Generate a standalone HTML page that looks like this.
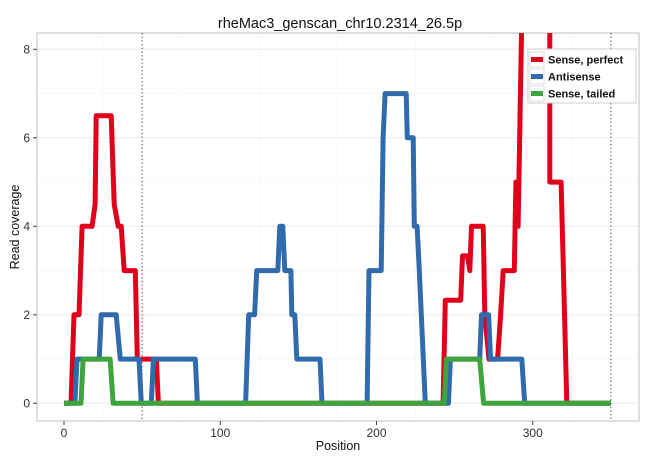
<!DOCTYPE html>
<html><head><meta charset="utf-8"><style>
body{margin:0;background:#fff;}
svg{display:block;font-family:"Liberation Sans",Arial,sans-serif;}
</style></head><body>
<svg id="chart" width="650" height="460" viewBox="0 0 650 460" xmlns="http://www.w3.org/2000/svg">
<defs><clipPath id="clip"><rect x="37" y="33" width="602" height="388"/></clipPath></defs>
<text x="340" y="28" text-anchor="middle" font-size="14.5" fill="#111">rheMac3_genscan_chr10.2314_26.5p</text>
<rect x="37" y="33" width="602" height="388" fill="#fff" stroke="#bdbdbd" stroke-width="1"/>
<g id="grid"></g>
<g id="series" clip-path="url(#clip)"></g>
<g id="axes"></g>
<text x="338" y="450" text-anchor="middle" font-size="12.5" fill="#111">Position</text>
<text transform="translate(19,227) rotate(-90)" text-anchor="middle" font-size="12.5" fill="#111">Read coverage</text>
<g>
<rect x="528" y="49" width="108" height="54" fill="#fff" stroke="#cfcfcf"/>
<g><rect x="530" y="52" width="14" height="15" fill="#fff" stroke="#ddd"/><line x1="531" y1="59.5" x2="543" y2="59.5" stroke="#e0001b" stroke-width="5"/><text x="548" y="63.5" font-size="11" font-weight="bold" fill="#111">Sense, perfect</text></g>
<g><rect x="530" y="69" width="14" height="15" fill="#fff" stroke="#ddd"/><line x1="531" y1="76.5" x2="543" y2="76.5" stroke="#2f6bad" stroke-width="5"/><text x="548" y="80.5" font-size="11" font-weight="bold" fill="#111">Antisense</text></g>
<g><rect x="530" y="86" width="14" height="15" fill="#fff" stroke="#ddd"/><line x1="531" y1="93.5" x2="543" y2="93.5" stroke="#3ea43b" stroke-width="5"/><text x="548" y="97.5" font-size="11" font-weight="bold" fill="#111">Sense, tailed</text></g>
</g>
</svg>
<script>
const xTicks=[0,100,200,300];
const yTicks=[0,2,4,6,8];
const vlines=[50,350];
const redX=[0,4.5,6.4,9.6,11.6,18,19.9,20.6,30.2,32.1,34.7,36.6,38.5,45.6,46.9,59.1,60.4,242.6,244,253.9,255,258.2,259.7,260.8,268.3,269.3,272,277.5,279.4,281.1,288.2,289.2,290.6,293.6,310.9,310.9,318.1,319.6,321.8,350];
const redY=[0,0,2,2,4,4,4.5,6.5,6.5,4.5,4,4,3,3,1,1,0,0,2.33,2.33,3.33,3.33,3,4,4,2,1,1,2,3,3,5,4,10,10,5,5,3,0,0];
const blueX=[0,7,8.3,22.5,23.8,33.4,36,48,49.5,55.9,57.2,84,85.4,116.2,118.2,122,123.3,136.8,138.1,140,141.3,145.2,145.8,147.7,149,163.8,165.1,194,195.2,203,204.2,205.5,219,219.7,223.5,224.2,226,227.4,231.2,246,247.3,266,267.2,271.7,273,293,294.8,350];
const blueY=[0,0,1,1,2,2,1,1,0,0,1,1,0,0,2,2,3,3,4,4,3,3,2,2,1,1,0,0,3,3,6,7,7,6,6,4,4,3,0,0,1,1,2,2,1,1,0,0];
const greenX=[0,10.9,12.2,29.5,31.5,243.4,244.7,266,268.5,350];
const greenY=[0,0,1,1,0,0,1,1,0,0];
const NS="http://www.w3.org/2000/svg";
const sx=v=>64+v*1.5626, sy=v=>403.3-v*44.25;
function mk(t,a,p){const e=document.createElementNS(NS,t);for(const k in a)e.setAttribute(k,a[k]);p.appendChild(e);return e;}
const grid=document.getElementById('grid'),axes=document.getElementById('axes'),ser=document.getElementById('series');
for(let v=-25;v<=375;v+=50){const x=sx(v);if(x<37||x>639)continue;const major=v%100===0;
 const l=mk('line',{x1:x,x2:x,y1:33,y2:421,stroke:major?'#ececec':'#f5f5f5','stroke-width':major?1:0.6},grid);
 
 }
for(let v=0;v<=8;v++){const y=sy(v);const major=v%2===0;
 const l=mk('line',{x1:37,x2:639,y1:y,y2:y,stroke:major?'#ececec':'#f5f5f5','stroke-width':major?1:0.6},grid);
 
 }
vlines.forEach(v=>{const l=mk('line',{x1:sx(v),x2:sx(v),y1:33,y2:421,stroke:'#333','stroke-width':1,'stroke-dasharray':'1.2,2.5'},grid);
 
 });
xTicks.forEach(v=>{const x=sx(v);mk('line',{x1:x,x2:x,y1:421,y2:425,stroke:'#444'},axes);
 const t=mk('text',{x:x,y:437,'text-anchor':'middle','font-size':12,fill:'#333'},axes);t.textContent=v;
 
 });
yTicks.forEach(v=>{const y=sy(v);mk('line',{x1:33,x2:37,y1:y,y2:y,stroke:'#444'},axes);
 const t=mk('text',{x:30,y:y+4,'text-anchor':'end','font-size':12,fill:'#333'},axes);t.textContent=v;
 
 });
function line(xs,ys,c,name){const d=xs.map((x,i)=>(i?'L':'M')+sx(x).toFixed(1)+','+sy(ys[i]).toFixed(1)).join('');
 const p=mk('path',{d:d,fill:'none',stroke:c,'stroke-width':5,'stroke-linejoin':'round'},ser);
 
 }
line(redX,redY,'#e0001b','sense-perfect-line');
line(blueX,blueY,'#2f6bad','antisense-line');
line(greenX,greenY,'#3ea43b','sense-tailed-line');
</script>
</body></html>
